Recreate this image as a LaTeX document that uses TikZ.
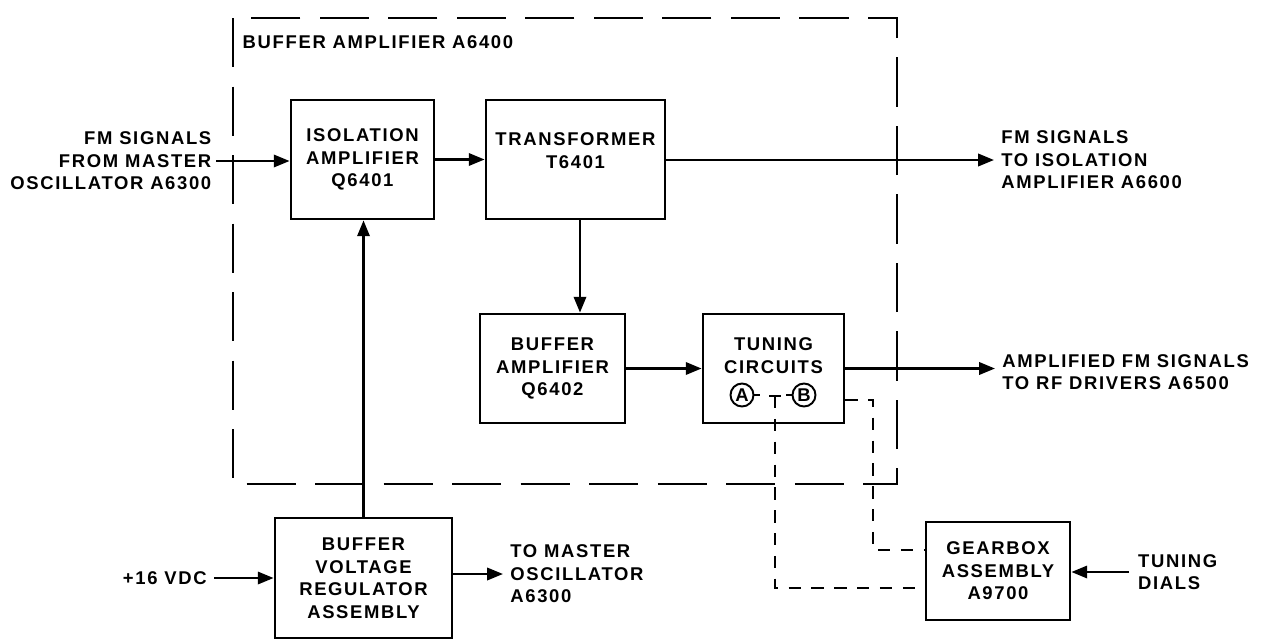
\documentclass[tikz,border=0pt]{standalone}
\usepackage{fontspec}
\newfontfamily\lblfont[LetterSpace=9]{Liberation Sans}
\usetikzlibrary{arrows.meta}

\begin{document}
\begin{tikzpicture}[x=0.02cm, y=-0.02cm, >={Triangle[length=9pt,width=7pt]},
  every node/.style={font=\lblfont\bfseries\fontsize{10.5}{12.8}\selectfont, inner sep=2.5pt, align=center},
  blk/.style={draw, line width=1.6pt, inner sep=0pt},
  circ/.style={draw, circle, line width=1.1pt, inner sep=0pt, minimum size=0.46cm, font=\lblfont\bfseries\fontsize{10.5}{11}\selectfont},
  arr/.style={->, line width=1.4pt},
  link/.style={line width=1.2pt, dash pattern=on 7pt off 6pt},
  frame/.style={line width=1.4pt, dash pattern=on 28pt off 11pt}]

	\useasboundingbox (0,0) rectangle (1261,640);

	% 1. dashed frame of A6400
	\draw[frame] (233,18) rectangle (897,484);
	\node[anchor=west] (title) at (238,42) {BUFFER AMPLIFIER A6400};

	% 2. blocks
	\node[blk, minimum width=2.86cm, minimum height=2.38cm] (iso) at (362.5,159.5) {ISOLATION\\AMPLIFIER\\Q6401};
	\node[blk, minimum width=3.58cm, minimum height=2.38cm] (tr) at (575.5,159.5) {};
	\node (trtxt) at (575.5,150.5) {TRANSFORMER\\T6401};
	\node[blk, minimum width=2.9cm, minimum height=2.18cm] (buf) at (552.5,368.5) {BUFFER\\AMPLIFIER\\Q6402};
	\node[blk, minimum width=2.82cm, minimum height=2.18cm] (tun) at (773.5,368.5) {};
	\node (tuntxt) at (773.5,355.5) {TUNING\\CIRCUITS};
	\node[circ] (ca) at (742,395) {A};
	\node[circ] (cb) at (804,395) {B};
	\coordinate (tj) at (775,396);
	\node[blk, minimum width=2.88cm, minimum height=1.96cm] (gear) at (998,571) {GEARBOX\\ASSEMBLY\\A9700};
	\node[blk, minimum width=3.54cm, minimum height=2.4cm] (reg) at (363.5,578) {BUFFER\\VOLTAGE\\REGULATOR\\ASSEMBLY};

	% 3. outside labels
	\node[anchor=east, align=right] (inlbl) at (216,161) {FM SIGNALS\\FROM MASTER\\OSCILLATOR A6300};
	\node[anchor=west, align=left, inner sep=4pt] (out1) at (994,160) {FM SIGNALS\\TO ISOLATION\\AMPLIFIER A6600};
	\node[anchor=west, align=left, inner sep=4pt] (out2) at (995,372) {AMPLIFIED FM SIGNALS\\TO RF DRIVERS A6500};
	\node[anchor=west, align=left, inner sep=5pt] (dials) at (1129,572) {TUNING\\DIALS};
	\node[anchor=east, inner sep=4pt] (vdc) at (214,578) {+16 VDC};
	\node[anchor=west, align=left, inner sep=4pt] (tomo) at (503,574) {TO MASTER\\OSCILLATOR\\A6300};

	% 4. signal arrows
	\draw[arr] (inlbl.east) -- (inlbl.east -| iso.west);
	\draw[arr] (iso.east) -- (tr.west);
	\draw[arr] (tr.east |- out1.west) -- (out1.west);
	\draw[arr] ([xshift=0.09cm]tr.south) -- ([xshift=0.09cm]tr.south |- buf.north);
	\draw[arr] (buf.east) -- (tun.west);
	\draw[arr] (tun.east) -- (tun.east -| out2.west);
	\draw[arr] (dials.west) -- (dials.west -| gear.east);
	\draw[arr] (vdc.east) -- (vdc.east -| reg.west);
	\draw[arr] (reg.east |- tomo.west) -- (tomo.west);
	\draw[arr] (reg.north) -- (reg.north |- iso.south);

	% 5. mechanical tuning links
	\coordinate (tb) at ([yshift=-0.63cm]tun.east);
	\coordinate (g1) at ([yshift=0.42cm]gear.west);
	\coordinate (g2) at ([yshift=-0.34cm]gear.west);
	\draw[line width=1.2pt] (ca.east) -- ++(6,0);
	\draw[line width=1.2pt] (cb.west) -- ++(-6,0);
	\draw[line width=1.2pt] (769,396) -- (781,396);
	\draw[link] (tb) -- ++(28,0) |- (g1);
	\draw[link] (tj) |- (g2);
\end{tikzpicture}
\end{document}
